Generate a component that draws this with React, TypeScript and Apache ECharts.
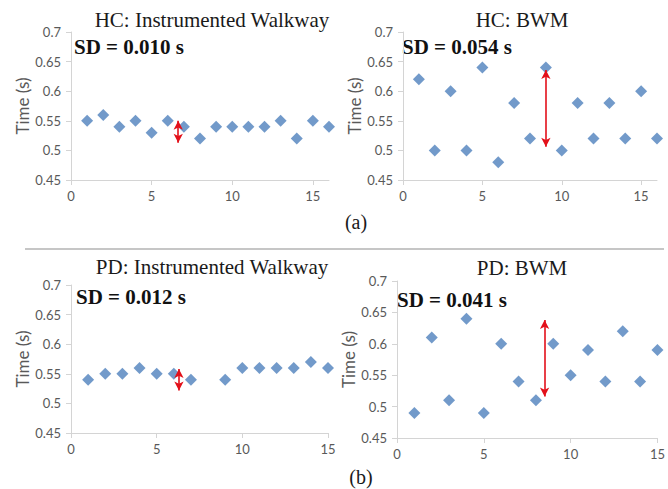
import React, { useEffect, useRef } from 'react';
import * as echarts from 'echarts';

// Step times (s) per trial
const hcWalkway = [0.55, 0.56, 0.54, 0.55, 0.53, 0.55, 0.54, 0.52, 0.54, 0.54, 0.54, 0.54, 0.55, 0.52, 0.55, 0.54];
const hcBwm = [0.62, 0.5, 0.6, 0.5, 0.64, 0.48, 0.58, 0.52, 0.64, 0.5, 0.58, 0.52, 0.58, 0.52, 0.6, 0.52];
const pdWalkway = [0.54, 0.55, 0.55, 0.56, 0.55, 0.55, 0.54, null, 0.54, 0.56, 0.56, 0.56, 0.56, 0.57, 0.56];
const pdBwm = [0.49, 0.61, 0.51, 0.64, 0.49, 0.6, 0.54, 0.51, 0.6, 0.55, 0.59, 0.54, 0.62, 0.54, 0.59];

const panelData = [hcWalkway, hcBwm, pdWalkway, pdBwm];
const panelTitles = ['HC: Instrumented Walkway', 'HC: BWM', 'PD: Instrumented Walkway', 'PD: BWM'];
const sdLabels = ['SD = 0.010 s', 'SD = 0.054 s', 'SD = 0.012 s', 'SD = 0.041 s'];
const xMaxes = [16, 16, 15, 15];
const xInterval = 5;
const yMin = 0.45;
const yMax = 0.7;
const yInterval = 0.05;
const yAxisName = 'Time (s)';
const subLabels = ['(a)', '(b)'];

// Red range arrows: x position, low and high ends
const arrowX = [6.65, 9, 6.3, 8.5];
const arrowLow = [0.513, 0.506, 0.522, 0.516];
const arrowHigh = [0.55, 0.636, 0.558, 0.638];

const grids = [
  { left: 71, top: 32, width: 258, height: 148, nameGap: 39 },
  { left: 403, top: 32, width: 254, height: 148, nameGap: 39 },
  { left: 71, top: 285, width: 257, height: 148, nameGap: 39 },
  { left: 397, top: 281, width: 265, height: 157, nameGap: 32 },
];
const titlePos = [
  [212, 20],
  [522, 20],
  [212, 267],
  [522, 268],
];
const sdPos = [
  [74, 47],
  [402, 47],
  [76, 297],
  [397, 300],
];
const subPos = [
  [356, 222],
  [361, 477],
];

const axisColor = '#d4d4d4';
const labelColor = '#595959';
const markerColor = '#4F81BD';
const arrowColor = '#e3101a';

export default function App() {
  const ref = useRef<HTMLDivElement>(null);
  useEffect(() => {
    if (!ref.current) return;
    const chart = echarts.init(ref.current, undefined, { renderer: 'svg' });

    const graphic: any[] = [];
    panelTitles.forEach((t, i) => {
      graphic.push({
        type: 'text',
        x: titlePos[i][0],
        y: titlePos[i][1],
        style: {
          text: t,
          fontFamily: '"Liberation Serif", "Times New Roman", serif',
          fontSize: 21,
          fill: '#1a1a1a',
          align: 'center',
          verticalAlign: 'middle',
        },
      });
      graphic.push({
        type: 'text',
        x: sdPos[i][0],
        y: sdPos[i][1],
        style: {
          text: sdLabels[i],
          fontFamily: '"Liberation Serif", "Times New Roman", serif',
          fontSize: 21,
          fontWeight: 'bold',
          fill: '#111',
          align: 'left',
          verticalAlign: 'middle',
        },
      });
    });
    subLabels.forEach((t, i) => {
      graphic.push({
        type: 'text',
        x: subPos[i][0],
        y: subPos[i][1],
        style: {
          text: t,
          fontFamily: '"Liberation Serif", "Times New Roman", serif',
          fontSize: 20,
          fill: '#1a1a1a',
          align: 'center',
          verticalAlign: 'middle',
        },
      });
    });
    graphic.push({
      type: 'line',
      shape: { x1: 25, y1: 249, x2: 664, y2: 249 },
      style: { stroke: '#c6c6c6', lineWidth: 2 },
    });

    const option: any = {
      animation: false,
      backgroundColor: '#ffffff',
      grid: grids.map((g) => ({ left: g.left, top: g.top, width: g.width, height: g.height })),
      xAxis: grids.map((g, i) => ({
        type: 'value',
        gridIndex: i,
        min: 0,
        max: xMaxes[i],
        interval: xInterval,
        splitLine: { show: false },
        axisLine: { show: true, lineStyle: { color: axisColor, width: 1 } },
        axisTick: { show: true, inside: false, length: 5, lineStyle: { color: axisColor } },
        axisLabel: {
          color: labelColor,
          fontFamily: 'Lato, "Liberation Sans", sans-serif',
          fontSize: 13,
          margin: 9,
          showMaxLabel: xMaxes[i] % xInterval === 0,
          formatter: (v: number) => (v % xInterval === 0 ? String(v) : ''),
        },
      })),
      yAxis: grids.map((g, i) => ({
        type: 'value',
        gridIndex: i,
        min: yMin,
        max: yMax,
        interval: yInterval,
        name: yAxisName,
        nameLocation: 'middle',
        nameRotate: 90,
        nameGap: g.nameGap,
        nameTextStyle: {
          color: labelColor,
          fontFamily: 'Lato, "Liberation Sans", sans-serif',
          fontSize: 17,
        },
        splitLine: { show: false },
        axisLine: { show: true, lineStyle: { color: axisColor, width: 1 } },
        axisTick: { show: true, inside: false, length: 5, lineStyle: { color: axisColor } },
        axisLabel: {
          color: labelColor,
          fontFamily: 'Lato, "Liberation Sans", sans-serif',
          fontSize: 13,
          margin: 10,
          formatter: (v: number) => String(Math.round(v * 100) / 100),
        },
      })),
      series: panelData.map((vals, i) => ({
        type: 'scatter',
        xAxisIndex: i,
        yAxisIndex: i,
        symbol: 'diamond',
        symbolSize: [12, 12],
        itemStyle: { color: markerColor },
        data: vals
          .map((v, k) => (v === null ? null : [k + 1, v]))
          .filter((d) => d !== null),
        markLine: {
          silent: true,
          symbol: ['arrow', 'arrow'],
          symbolSize: [7, 9],
          label: { show: false },
          lineStyle: { color: arrowColor, width: 1.6, type: 'solid' },
          data: [
            [
              { coord: [arrowX[i], arrowLow[i]] },
              { coord: [arrowX[i], arrowHigh[i]] },
            ],
          ],
        },
      })),
      graphic,
    };
    chart.setOption(option);
    return () => chart.dispose();
  }, []);
  return (
    <div
      ref={ref}
      style={{ position: 'absolute', left: 0, top: 0, width: 668, height: 489, background: '#fff' }}
    />
  );
}
